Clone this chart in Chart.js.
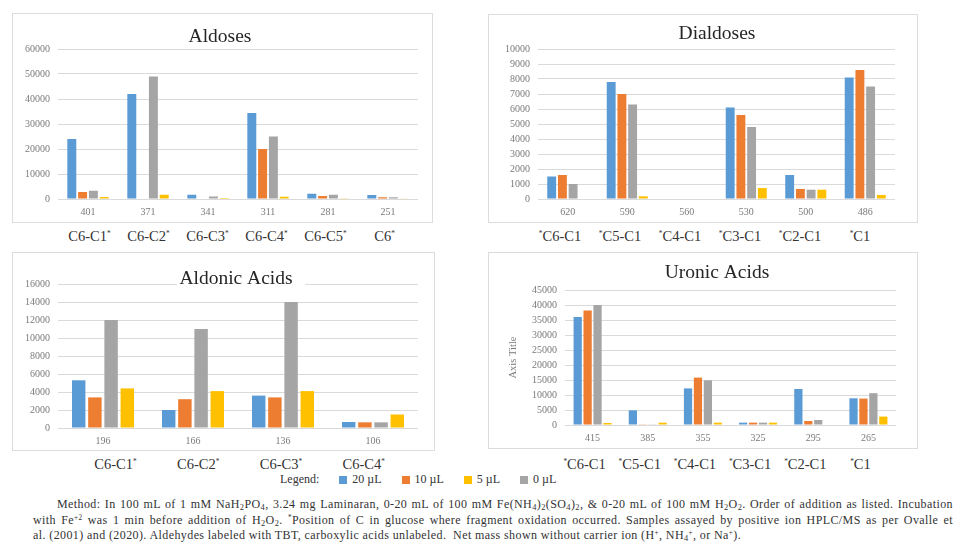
<!DOCTYPE html>
<html>
<head>
<meta charset="utf-8">
<script src="https://cdn.jsdelivr.net/npm/chart.js@4.4.1/dist/chart.umd.min.js"></script>
<style>
  html, body { margin: 0; padding: 0; background: #fff; }
  body { width: 955px; height: 542px; position: relative; overflow: hidden;
         font-family: "Liberation Serif", "DejaVu Serif", serif; color: #222; }
  .panel { position: absolute; border: 1px solid #dcdcdc; box-sizing: border-box; background: #fff; }
  .panel canvas { position: absolute; left: 0; top: 0; }
  .names { position: absolute; display: flex; font-size: 14.5px; color: #333; line-height: 1; }
  .names div { flex: 1; text-align: center; white-space: nowrap; }
  .names sup { font-size: 0.5em; vertical-align: 0.7em; line-height: 0; }
  .note sup { font-size: 0.6em; vertical-align: 0.55em; line-height: 0; }
  .note sub { font-size: 0.7em; vertical-align: -0.25em; line-height: 0; }
  .legend { position: absolute; left: 280px; top: 472px; font-size: 12px; color: #333;
            display: flex; align-items: center; white-space: nowrap; }
  .legend .sw { display: inline-block; width: 8px; height: 8px; margin: 0 5px 0 0; }
  .legend .item { display: flex; align-items: center; margin-left: 20px; }
  .note { position: absolute; left: 33px; width: 920px; font-size: 12px; letter-spacing: 0.4px;
          color: #333; line-height: 15.5px; top: 497px; }
  .note div { text-align: justify; text-align-last: justify; white-space: nowrap; }
  .note div.last { text-align-last: left; }
  .note div.first { padding-left: 24px; }
</style>
</head>
<body>

<script>
// ---- Aldoses ----
const aldoseMass  = ['401', '371', '341', '311', '281', '251'];
const aldoseSites = ['C6-C1*', 'C6-C2*', 'C6-C3*', 'C6-C4*', 'C6-C5*', 'C6*'];
const aldose20 = [24000, 42000, 1700, 34400, 2100, 1600];
const aldose10 = [2800, 0, 0, 20000, 1200, 700];
const aldose0  = [3300, 49000, 1000, 25000, 1700, 700];
const aldose5  = [800, 1700, 400, 900, 300, 150];

// ---- Dialdoses ----
const dialdoseMass  = ['620', '590', '560', '530', '500', '486'];
const dialdoseSites = ['*C6-C1', '*C5-C1', '*C4-C1', '*C3-C1', '*C2-C1', '*C1'];
const dialdose20 = [1500, 7800, 0, 6100, 1600, 8100];
const dialdose10 = [1600, 7000, 0, 5600, 670, 8600];
const dialdose0  = [1000, 6300, 0, 4800, 620, 7500];
const dialdose5  = [0, 180, 0, 730, 620, 270];

// ---- Aldonic acids ----
const aldonicMass  = ['196', '166', '136', '106'];
const aldonicSites = ['C6-C1*', 'C6-C2*', 'C6-C3*', 'C6-C4*'];
const aldonic20 = [5300, 2000, 3600, 670];
const aldonic10 = [3400, 3200, 3400, 630];
const aldonic0  = [12000, 11000, 14000, 630];
const aldonic5  = [4400, 4100, 4100, 1500];

// ---- Uronic acids ----
const uronicMass  = ['415', '385', '355', '325', '295', '265'];
const uronicSites = ['*C6-C1', '*C5-C1', '*C4-C1', '*C3-C1', '*C2-C1', '*C1'];
const uronic20 = [36000, 4900, 12200, 780, 12000, 8900];
const uronic10 = [38200, 100, 15800, 780, 1330, 8800];
const uronic0  = [40000, 100, 14900, 780, 1670, 10600];
const uronic5  = [670, 780, 780, 780, 0, 2800];

// Series: volumes of added reagent, in the order bars are drawn
const seriesNames  = ['20 µL', '10 µL', '0 µL', '5 µL'];
const seriesColors = ['#5b9bd5', '#ed7d31', '#a5a5a5', '#ffc000'];
const legendOrder  = [0, 1, 3, 2];

const TICK_FONT = { family: '"Liberation Serif", serif', size: 10 };
const TICK_COLOR = '#7a7a7a';
const GRID_COLOR = '#dadada';

const panels = [
  { id: 'aldoses', title: 'Aldoses', labels: aldoseMass, sites: aldoseSites,
    values: [aldose20, aldose10, aldose0, aldose5], max: 60000, step: 10000,
    box: { x: 12, y: 13, w: 421, h: 210 }, plot: { l: 58, t: 49, r: 418, b: 199 },
    titlePos: { x: 220, y: 37 }, gap: [180, 302],
    names: { l: 60, w: 354, y: 229 } },
  { id: 'dialdoses', title: 'Dialdoses', labels: dialdoseMass, sites: dialdoseSites,
    values: [dialdose20, dialdose10, dialdose0, dialdose5], max: 10000, step: 1000,
    box: { x: 488, y: 14, w: 430, h: 209 }, plot: { l: 538, t: 49, r: 895, b: 199 },
    titlePos: { x: 717, y: 34 }, gap: null,
    names: { l: 530, w: 360, y: 229 } },
  { id: 'aldonic', title: 'Aldonic Acids', labels: aldonicMass, sites: aldonicSites,
    values: [aldonic20, aldonic10, aldonic0, aldonic5], max: 16000, step: 2000,
    box: { x: 12, y: 252, w: 423, h: 199 }, plot: { l: 58, t: 284, r: 418, b: 428 },
    titlePos: { x: 236, y: 279 }, gap: [177, 305],
    names: { l: 74, w: 331, y: 457 } },
  { id: 'uronic', title: 'Uronic Acids', labels: uronicMass, sites: uronicSites,
    values: [uronic20, uronic10, uronic0, uronic5], max: 45000, step: 5000,
    box: { x: 488, y: 252, w: 430, h: 197 }, plot: { l: 565, t: 290, r: 896, b: 425 },
    titlePos: { x: 717, y: 273 }, gap: null, axisTitle: 'Axis Title',
    names: { l: 557, w: 331, y: 457 } }
];

// Chart title drawn over the plot with a white backing, like an overlaid chart title
const overlayTitle = {
  id: 'overlayTitle',
  afterDraw(chart, args, opts) {
    const ctx = chart.ctx;
    ctx.save();
    ctx.font = '19.5px "Liberation Serif", serif';
    const w = ctx.measureText(opts.text).width;
    const x0 = opts.gap ? opts.gap[0] : opts.x - w / 2 - 6;
    const x1 = opts.gap ? opts.gap[1] : opts.x + w / 2 + 6;
    ctx.fillStyle = '#ffffff';
    ctx.fillRect(x0, opts.y - 11, x1 - x0, 22);
    ctx.fillStyle = '#262626';
    ctx.textAlign = 'center';
    ctx.textBaseline = 'middle';
    ctx.fillText(opts.text, opts.x, opts.y);
    ctx.restore();
  }
};

function siteHtml(s) {
  return s.replace(/\*/g, '<sup>*</sup>');
}

panels.forEach(p => {
  const div = document.createElement('div');
  div.className = 'panel';
  Object.assign(div.style, { left: p.box.x + 'px', top: p.box.y + 'px', width: p.box.w + 'px', height: p.box.h + 'px' });
  const cw = p.box.w - 2, ch = p.box.h - 2;
  const ox = p.box.x + 1, oy = p.box.y + 1;
  const cv = document.createElement('canvas');
  cv.width = cw; cv.height = ch;
  cv.style.width = cw + 'px'; cv.style.height = ch + 'px';
  div.appendChild(cv);
  document.body.appendChild(div);

  // site names underneath the panel
  const row = document.createElement('div');
  row.className = 'names';
  Object.assign(row.style, { left: p.names.l + 'px', width: p.names.w + 'px', top: p.names.y + 'px' });
  row.innerHTML = p.sites.map(s => '<div>' + siteHtml(s) + '</div>').join('');
  document.body.appendChild(row);

  const yWidth = p.plot.l - ox;
  const xHeight = (oy + ch) - p.plot.b;

  new Chart(cv, {
    type: 'bar',
    data: {
      labels: p.labels,
      datasets: p.values.map((v, i) => ({
        label: seriesNames[i],
        data: v,
        backgroundColor: seriesColors[i],
        borderWidth: 0,
        barPercentage: 0.83,
        categoryPercentage: 0.72
      }))
    },
    options: {
      responsive: false,
      animation: false,
      devicePixelRatio: 1,
      layout: { padding: { left: 0, top: p.plot.t - oy, right: (ox + cw) - p.plot.r, bottom: 0 } },
      plugins: {
        legend: { display: false },
        tooltip: { enabled: false },
        overlayTitle: { text: p.title, x: p.titlePos.x - ox, y: p.titlePos.y - oy,
                        gap: p.gap ? [p.gap[0] - ox, p.gap[1] - ox] : null }
      },
      scales: {
        x: {
          grid: { display: false, drawTicks: false },
          border: { display: false },
          ticks: { font: TICK_FONT, color: TICK_COLOR, padding: 7, maxRotation: 0 },
          afterFit(s) { s.height = xHeight; }
        },
        y: {
          min: 0, max: p.max,
          grid: { color: GRID_COLOR, lineWidth: 1, drawTicks: false },
          border: { display: false },
          ticks: { stepSize: p.step, font: TICK_FONT, color: TICK_COLOR, padding: 8,
                   callback: v => String(v) },
          title: p.axisTitle ? { display: true, text: p.axisTitle, color: TICK_COLOR,
                                 font: { family: '"Liberation Serif", serif', size: 10.5 },
                                 padding: { top: 18, bottom: 0 } } : { display: false },
          afterFit(s) { s.width = yWidth; }
        }
      }
    },
    plugins: [overlayTitle]
  });
});

// Legend row
const lg = document.createElement('div');
lg.className = 'legend';
lg.innerHTML = '<span>Legend:</span>' + legendOrder.map(i =>
  '<span class="item"><span class="sw" style="background:' + seriesColors[i] + '"></span>' + seriesNames[i] + '</span>').join('');
document.body.appendChild(lg);
</script>

<div class="note">
  <div class="first">Method: In 100 mL of 1 mM NaH<sub>2</sub>PO<sub>4</sub>, 3.24 mg Laminaran, 0-20 mL of 100 mM Fe(NH<sub>4</sub>)<sub>2</sub>(SO<sub>4</sub>)<sub>2</sub>, &amp; 0-20 mL of 100 mM H<sub>2</sub>O<sub>2</sub>. Order of addition as listed. Incubation</div>
  <div>with Fe<sup>+2</sup> was 1 min before addition of H<sub>2</sub>O<sub>2</sub>. <sup>*</sup>Position of C in glucose where fragment oxidation occurred. Samples assayed by positive ion HPLC/MS as per Ovalle et</div>
  <div class="last">al. (2001) and (2020). Aldehydes labeled with TBT, carboxylic acids unlabeled.&nbsp; Net mass shown without carrier ion (H<sup>+</sup>, NH<sub>4</sub><sup>+</sup>, or Na<sup>+</sup>).</div>
</div>
</body>
</html>
